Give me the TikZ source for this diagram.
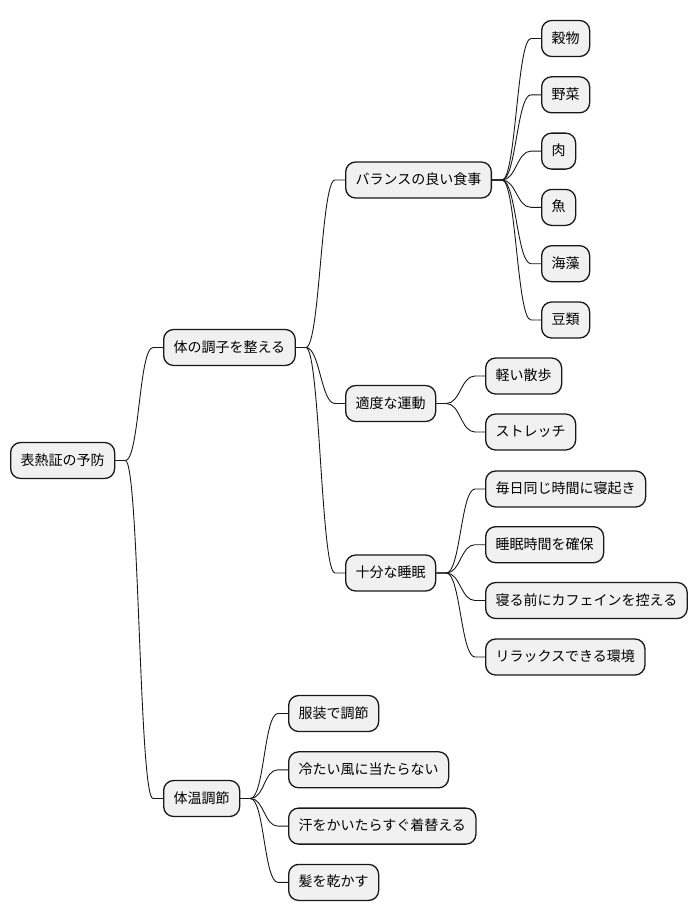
\documentclass[tikz,border=0pt]{standalone}
\usepackage{fontspec}
\newfontfamily\cjk{Noto Sans CJK JP}
\usetikzlibrary{calc}
\definecolor{boxfill}{HTML}{F1F1F1}
\definecolor{boxline}{HTML}{181818}
\tikzset{
  mmbox/.style={draw=boxline, fill=boxfill, rounded corners=10pt, line width=1.3pt,
    minimum height=36pt, inner xsep=10pt, inner ysep=0pt, anchor=west,
    text height=11pt, text depth=2pt,
    font=\cjk\fontsize{14}{16}\selectfont},
  mm/.style={draw=boxline, line width=0.9pt,
    to path={-- ++(10,0) .. controls +(14,0) and ($(\tikztotarget)+(-24,0)$) .. ($(\tikztotarget)+(-10,0)$) -- (\tikztotarget)}}
}
\begin{document}
\begin{tikzpicture}[x=1pt,y=-1pt]
\useasboundingbox (0,0) rectangle (698,921);
\node[mmbox] (r) at (10,460.5) {表熱証の予防};
\node[mmbox] (a) at (163,347.5) {体の調子を整える};
\node[mmbox] (a1) at (345,180) {バランスの良い食事};
\node[mmbox] (a11) at (541,38.5) {穀物};
\node[mmbox] (a12) at (541,94.8) {野菜};
\node[mmbox] (a13) at (541,151.1) {肉};
\node[mmbox] (a14) at (541,207.4) {魚};
\node[mmbox] (a15) at (541,263.7) {海藻};
\node[mmbox] (a16) at (541,320) {豆類};
\node[mmbox] (a2) at (345,403.5) {適度な運動};
\node[mmbox] (a21) at (485,376) {軽い散歩};
\node[mmbox] (a22) at (485,432) {ストレッチ};
\node[mmbox] (a3) at (345,573) {十分な睡眠};
\node[mmbox] (a31) at (485,489) {毎日同じ時間に寝起き};
\node[mmbox] (a32) at (485,544.7) {睡眠時間を確保};
\node[mmbox] (a33) at (485,600.5) {寝る前にカフェインを控える};
\node[mmbox] (a34) at (485,657) {リラックスできる環境};
\node[mmbox] (b) at (163,798.5) {体温調節};
\node[mmbox] (b1) at (288,713.5) {服装で調節};
\node[mmbox] (b2) at (288,769.8) {冷たい風に当たらない};
\node[mmbox] (b3) at (288,826.1) {汗をかいたらすぐ着替える};
\node[mmbox] (b4) at (288,882.4) {髪を乾かす};
\foreach \p/\c in {r/a, r/b, a/a1, a/a2, a/a3,
  a1/a11, a1/a12, a1/a13, a1/a14, a1/a15, a1/a16,
  a2/a21, a2/a22, a3/a31, a3/a32, a3/a33, a3/a34,
  b/b1, b/b2, b/b3, b/b4}
  \draw[mm] (\p.east) to (\c.west);
\end{tikzpicture}
\end{document}
